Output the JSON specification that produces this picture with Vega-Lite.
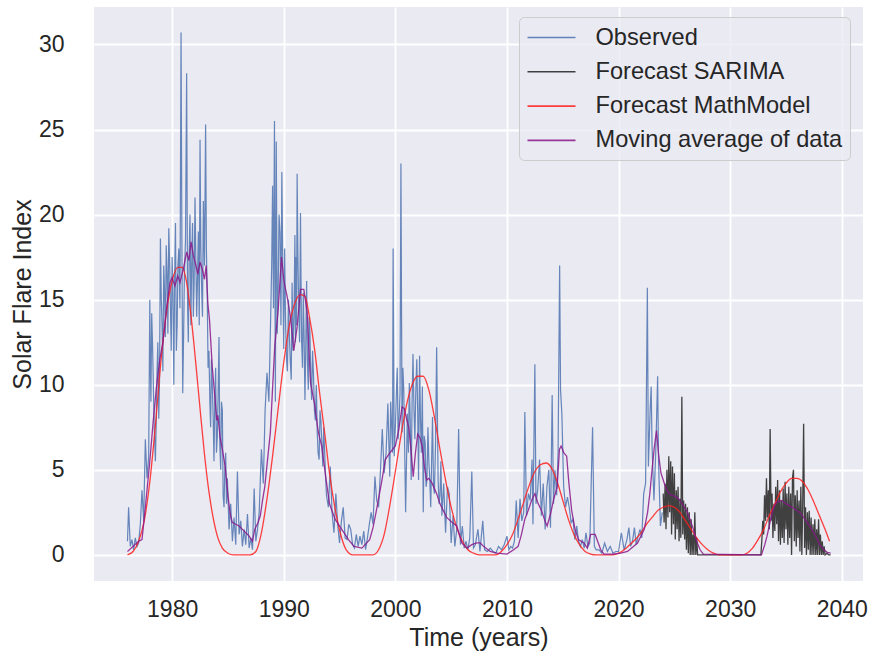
{
"$schema": "https://vega.github.io/schema/vega-lite/v6.json",
"width": 769, "height": 574,
"autosize": {"type": "none"},
"padding": {"left": 94, "top": 7, "right": 7, "bottom": 77},
"background": "white",
"config": {
 "view": {"fill": "#EAEAF2", "stroke": null},
 "font": "Liberation Sans",
 "axis": {"grid": true, "gridColor": "white", "gridWidth": 1.8, "domain": false, "ticks": false,
  "labelFont": "Liberation Sans", "labelFontSize": 23, "labelColor": "#262626",
  "titleFont": "Liberation Sans", "titleFontSize": 25, "titleColor": "#262626", "titleFontWeight": "normal"}
},
"datasets": {
"obs": [
{"t":1976.0,"v":0.8},{"t":1976.1,"v":2.8},{"t":1976.25,"v":0.5},{"t":1976.4,"v":0.9},{"t":1976.55,"v":0.3},{"t":1976.7,"v":1.0},{"t":1976.85,"v":0.5},
{"t":1977.0,"v":0.7},{"t":1977.15,"v":1.8},{"t":1977.3,"v":3.8},{"t":1977.45,"v":2.0},{"t":1977.6,"v":6.8},{"t":1977.75,"v":4.5},{"t":1977.9,"v":5.8},
{"t":1978.0,"v":15.0},{"t":1978.1,"v":9.0},{"t":1978.25,"v":12.2},{"t":1978.4,"v":7.5},{"t":1978.5,"v":5.5},{"t":1978.65,"v":10.8},{"t":1978.8,"v":8.0},{"t":1978.95,"v":18.6},
{"t":1979.1,"v":13.5},{"t":1979.25,"v":17.0},{"t":1979.4,"v":12.8},{"t":1979.55,"v":16.5},{"t":1979.7,"v":19.2},{"t":1979.85,"v":14.5},
{"t":1980.0,"v":17.5},{"t":1980.15,"v":10.0},{"t":1980.3,"v":19.5},{"t":1980.45,"v":13.5},{"t":1980.6,"v":18.0},{"t":1980.8,"v":30.7},{"t":1980.95,"v":9.5},
{"t":1981.1,"v":16.5},{"t":1981.3,"v":28.3},{"t":1981.45,"v":12.5},{"t":1981.6,"v":20.0},{"t":1981.75,"v":17.0},{"t":1981.9,"v":14.0},
{"t":1982.05,"v":21.0},{"t":1982.2,"v":14.0},{"t":1982.35,"v":19.0},{"t":1982.5,"v":24.4},{"t":1982.65,"v":15.5},{"t":1982.8,"v":20.8},
{"t":1983.0,"v":25.3},{"t":1983.15,"v":15.0},{"t":1983.3,"v":12.0},{"t":1983.45,"v":7.5},{"t":1983.6,"v":10.0},{"t":1983.75,"v":5.5},{"t":1983.9,"v":11.0},
{"t":1984.05,"v":7.0},{"t":1984.2,"v":12.8},{"t":1984.35,"v":5.0},{"t":1984.5,"v":8.5},{"t":1984.65,"v":2.8},{"t":1984.8,"v":6.0},{"t":1984.95,"v":4.5},
{"t":1985.1,"v":1.5},{"t":1985.25,"v":3.0},{"t":1985.4,"v":0.8},{"t":1985.55,"v":2.2},{"t":1985.7,"v":0.6},{"t":1985.85,"v":4.9},
{"t":1986.0,"v":1.2},{"t":1986.15,"v":2.0},{"t":1986.3,"v":0.5},{"t":1986.45,"v":1.5},{"t":1986.6,"v":0.6},{"t":1986.75,"v":2.4},{"t":1986.9,"v":0.4},
{"t":1987.05,"v":1.0},{"t":1987.2,"v":0.3},{"t":1987.35,"v":3.9},{"t":1987.5,"v":0.8},{"t":1987.65,"v":1.5},{"t":1987.8,"v":2.5},
{"t":1988.0,"v":6.2},{"t":1988.17,"v":4.2},{"t":1988.33,"v":8.5},{"t":1988.5,"v":10.7},{"t":1988.67,"v":9.0},{"t":1988.83,"v":14.0},
{"t":1989.0,"v":21.7},{"t":1989.17,"v":25.5},{"t":1989.25,"v":9.0},{"t":1989.33,"v":24.3},{"t":1989.5,"v":15.4},{"t":1989.67,"v":18.9},{"t":1989.83,"v":22.5},
{"t":1990.0,"v":12.1},{"t":1990.17,"v":13.4},{"t":1990.33,"v":10.8},{"t":1990.5,"v":13.0},{"t":1990.67,"v":10.3},{"t":1990.83,"v":12.0},
{"t":1991.0,"v":18.8},{"t":1991.1,"v":17.5},{"t":1991.2,"v":22.4},{"t":1991.33,"v":15.0},{"t":1991.5,"v":20.1},{"t":1991.6,"v":12.6},{"t":1991.75,"v":15.4},{"t":1991.9,"v":9.1},
{"t":1992.05,"v":16.1},{"t":1992.2,"v":9.7},{"t":1992.35,"v":13.0},{"t":1992.5,"v":9.1},{"t":1992.67,"v":10.5},{"t":1992.83,"v":7.9},
{"t":1993.0,"v":7.2},{"t":1993.17,"v":5.6},{"t":1993.33,"v":7.9},{"t":1993.5,"v":5.2},{"t":1993.67,"v":6.0},{"t":1993.83,"v":3.5},
{"t":1994.0,"v":2.8},{"t":1994.17,"v":5.2},{"t":1994.33,"v":2.5},{"t":1994.5,"v":1.3},{"t":1994.67,"v":3.6},{"t":1994.83,"v":1.8},
{"t":1995.0,"v":0.7},{"t":1995.17,"v":2.0},{"t":1995.33,"v":2.8},{"t":1995.5,"v":1.0},{"t":1995.67,"v":0.9},{"t":1995.83,"v":1.8},
{"t":1996.0,"v":1.5},{"t":1996.17,"v":0.6},{"t":1996.33,"v":0.4},{"t":1996.5,"v":1.2},{"t":1996.67,"v":0.5},{"t":1996.83,"v":1.1},
{"t":1997.0,"v":0.6},{"t":1997.17,"v":1.4},{"t":1997.33,"v":0.3},{"t":1997.5,"v":1.0},{"t":1997.67,"v":1.8},{"t":1997.83,"v":2.5},
{"t":1998.0,"v":1.8},{"t":1998.17,"v":4.6},{"t":1998.33,"v":3.2},{"t":1998.5,"v":2.8},{"t":1998.67,"v":5.0},{"t":1998.83,"v":7.4},
{"t":1999.0,"v":4.8},{"t":1999.17,"v":6.0},{"t":1999.33,"v":8.9},{"t":1999.5,"v":4.6},{"t":1999.67,"v":7.5},{"t":1999.8,"v":18.0},{"t":1999.9,"v":5.8},
{"t":2000.08,"v":9.3},{"t":2000.25,"v":6.8},{"t":2000.42,"v":9.5},{"t":2000.5,"v":23.0},{"t":2000.6,"v":7.2},{"t":2000.75,"v":9.8},{"t":2000.92,"v":2.5},
{"t":2001.08,"v":8.3},{"t":2001.25,"v":10.1},{"t":2001.42,"v":4.4},{"t":2001.58,"v":11.8},{"t":2001.75,"v":6.8},{"t":2001.92,"v":11.5},
{"t":2002.08,"v":4.4},{"t":2002.25,"v":7.9},{"t":2002.42,"v":9.9},{"t":2002.5,"v":2.5},{"t":2002.67,"v":6.6},{"t":2002.83,"v":4.4},
{"t":2003.0,"v":5.5},{"t":2003.17,"v":2.8},{"t":2003.33,"v":8.1},{"t":2003.5,"v":3.6},{"t":2003.7,"v":12.2},{"t":2003.83,"v":4.4},
{"t":2004.0,"v":3.5},{"t":2004.17,"v":2.3},{"t":2004.33,"v":4.2},{"t":2004.5,"v":1.3},{"t":2004.67,"v":4.0},{"t":2004.83,"v":3.6},
{"t":2005.0,"v":0.7},{"t":2005.17,"v":2.3},{"t":2005.33,"v":0.5},{"t":2005.5,"v":1.5},{"t":2005.67,"v":7.4},{"t":2005.83,"v":0.6},
{"t":2006.0,"v":1.7},{"t":2006.17,"v":0.4},{"t":2006.33,"v":0.8},{"t":2006.5,"v":0.3},{"t":2006.67,"v":1.0},{"t":2006.85,"v":4.9},
{"t":2007.0,"v":0.4},{"t":2007.17,"v":0.6},{"t":2007.4,"v":1.5},{"t":2007.58,"v":0.2},{"t":2007.83,"v":2.0},
{"t":2008.0,"v":0.3},{"t":2008.25,"v":0.2},{"t":2008.5,"v":0.4},{"t":2008.75,"v":0.2},{"t":2009.0,"v":0.1},{"t":2009.25,"v":0.5},{"t":2009.5,"v":0.3},{"t":2009.75,"v":0.6},
{"t":2010.0,"v":1.1},{"t":2010.17,"v":0.3},{"t":2010.33,"v":0.5},{"t":2010.5,"v":0.4},{"t":2010.67,"v":0.8},{"t":2010.83,"v":3.2},
{"t":2011.0,"v":1.0},{"t":2011.17,"v":3.3},{"t":2011.33,"v":2.0},{"t":2011.5,"v":2.5},{"t":2011.6,"v":8.4},{"t":2011.75,"v":2.3},{"t":2011.92,"v":3.6},
{"t":2012.08,"v":3.2},{"t":2012.25,"v":5.6},{"t":2012.33,"v":1.8},{"t":2012.5,"v":11.2},{"t":2012.6,"v":3.0},{"t":2012.75,"v":3.8},{"t":2012.92,"v":5.6},
{"t":2013.08,"v":2.3},{"t":2013.25,"v":4.2},{"t":2013.42,"v":1.5},{"t":2013.58,"v":4.0},{"t":2013.75,"v":5.0},{"t":2013.9,"v":1.6},
{"t":2014.05,"v":9.4},{"t":2014.17,"v":3.0},{"t":2014.3,"v":5.0},{"t":2014.45,"v":3.5},{"t":2014.58,"v":6.0},{"t":2014.72,"v":17.0},{"t":2014.8,"v":9.7},{"t":2014.92,"v":8.3},
{"t":2015.08,"v":4.0},{"t":2015.25,"v":2.8},{"t":2015.42,"v":3.4},{"t":2015.58,"v":2.8},{"t":2015.75,"v":1.9},{"t":2015.92,"v":2.1},
{"t":2016.08,"v":0.9},{"t":2016.25,"v":1.7},{"t":2016.42,"v":0.8},{"t":2016.58,"v":0.5},{"t":2016.75,"v":0.9},{"t":2016.92,"v":0.4},
{"t":2017.08,"v":1.3},{"t":2017.25,"v":0.5},{"t":2017.42,"v":0.7},{"t":2017.67,"v":7.5},{"t":2017.83,"v":0.5},
{"t":2018.0,"v":0.3},{"t":2018.25,"v":0.3},{"t":2018.5,"v":0.1},{"t":2018.75,"v":0.7},{"t":2019.0,"v":0.2},{"t":2019.25,"v":0.5},{"t":2019.5,"v":0.1},{"t":2019.75,"v":0.2},
{"t":2020.0,"v":0.2},{"t":2020.25,"v":1.3},{"t":2020.5,"v":0.3},{"t":2020.75,"v":0.9},{"t":2020.92,"v":1.6},
{"t":2021.08,"v":0.5},{"t":2021.25,"v":0.8},{"t":2021.42,"v":1.6},{"t":2021.58,"v":0.6},{"t":2021.75,"v":1.1},{"t":2021.92,"v":1.5},
{"t":2022.08,"v":1.0},{"t":2022.25,"v":3.6},{"t":2022.42,"v":4.2},{"t":2022.58,"v":15.7},{"t":2022.67,"v":5.2},{"t":2022.83,"v":8.5},{"t":2022.92,"v":9.9},
{"t":2023.0,"v":6.4},{"t":2023.17,"v":3.2},{"t":2023.33,"v":6.0},{"t":2023.5,"v":10.5},{"t":2023.58,"v":5.5},{"t":2023.75,"v":1.7},{"t":2023.92,"v":2.5},
{"t":1978.05,"v":11.0},{"t":1978.17,"v":14.2},{"t":1978.33,"v":9.5},{"t":1978.58,"v":8.0},{"t":1978.72,"v":12.5},{"t":1978.87,"v":10.2},{"t":1979.03,"v":15.0},{"t":1979.17,"v":10.8},
{"t":1979.32,"v":15.5},{"t":1979.47,"v":18.2},{"t":1979.62,"v":13.0},{"t":1979.78,"v":17.0},{"t":1979.92,"v":12.0},{"t":1980.07,"v":15.5},{"t":1980.22,"v":16.0},{"t":1980.38,"v":12.0},
{"t":1980.52,"v":17.0},{"t":1980.7,"v":14.5},{"t":1980.87,"v":19.0},{"t":1981.03,"v":13.0},{"t":1981.2,"v":18.5},{"t":1981.38,"v":15.0},{"t":1981.52,"v":17.5},{"t":1981.68,"v":13.5},
{"t":1981.83,"v":19.5},{"t":1981.97,"v":16.0},{"t":1982.12,"v":17.5},{"t":1982.28,"v":16.5},{"t":1982.43,"v":13.5},{"t":1982.57,"v":18.0},{"t":1982.72,"v":14.0},{"t":1982.9,"v":17.0},
{"t":1983.07,"v":18.0},{"t":1983.22,"v":11.0},{"t":1983.38,"v":9.0},{"t":1983.52,"v":11.5},{"t":1983.68,"v":8.0},{"t":1983.82,"v":9.0},{"t":1983.97,"v":6.0},{"t":1984.12,"v":9.5},
{"t":1984.27,"v":6.5},{"t":1984.42,"v":9.0},{"t":1984.57,"v":3.5},{"t":1984.72,"v":5.0},{"t":1984.87,"v":3.0},
{"t":1988.92,"v":17.0},{"t":1989.08,"v":14.5},{"t":1989.42,"v":13.0},{"t":1989.58,"v":20.0},{"t":1989.75,"v":13.5},{"t":1989.92,"v":16.5},{"t":1990.08,"v":18.0},{"t":1990.25,"v":11.5},
{"t":1990.42,"v":15.0},{"t":1990.58,"v":11.5},{"t":1990.75,"v":16.0},{"t":1990.92,"v":14.0},{"t":1991.05,"v":12.5},{"t":1991.15,"v":13.5},{"t":1991.27,"v":17.5},{"t":1991.42,"v":12.5},
{"t":1991.55,"v":16.0},{"t":1991.68,"v":11.0},{"t":1991.82,"v":13.0},{"t":1991.97,"v":12.0},{"t":1992.12,"v":11.5},{"t":1992.27,"v":14.0},{"t":1992.42,"v":10.5},{"t":1992.58,"v":12.0},
{"t":1992.75,"v":8.5},{"t":1992.92,"v":10.0},{"t":1993.08,"v":6.0},{"t":1993.25,"v":8.5},{"t":1993.42,"v":6.5},{"t":1993.58,"v":7.5},{"t":1993.75,"v":4.5},
{"t":1999.42,"v":6.5},{"t":1999.58,"v":9.0},{"t":1999.75,"v":6.0},{"t":2000.0,"v":7.5},{"t":2000.17,"v":11.0},{"t":2000.33,"v":8.0},{"t":2000.67,"v":11.0},{"t":2000.83,"v":6.5},
{"t":2001.0,"v":5.5},{"t":2001.17,"v":6.0},{"t":2001.33,"v":8.0},{"t":2001.5,"v":9.0},{"t":2001.67,"v":8.5},{"t":2001.83,"v":9.5},{"t":2002.0,"v":8.5},{"t":2002.17,"v":11.7},
{"t":2002.33,"v":6.0},{"t":2002.58,"v":7.0},{"t":2002.75,"v":4.0},{"t":2002.92,"v":7.5},{"t":2003.08,"v":4.5},{"t":2003.25,"v":5.5},{"t":2003.42,"v":4.0},{"t":2003.6,"v":6.5},
{"t":2003.92,"v":3.0},{"t":2004.08,"v":5.5}
],
"sar": [
{"t":2024.0,"v":3.6},{"t":2024.08,"v":1.9},{"t":2024.17,"v":4.2},{"t":2024.25,"v":1.5},{"t":2024.33,"v":5.0},{"t":2024.42,"v":2.2},{"t":2024.5,"v":5.8},{"t":2024.58,"v":2.5},
{"t":2024.67,"v":5.5},{"t":2024.75,"v":1.2},{"t":2024.83,"v":5.2},{"t":2024.92,"v":1.8},{"t":2025.0,"v":4.8},{"t":2025.08,"v":0.9},{"t":2025.17,"v":3.8},{"t":2025.25,"v":1.5},
{"t":2025.33,"v":4.0},{"t":2025.42,"v":0.8},{"t":2025.5,"v":3.3},{"t":2025.58,"v":1.0},{"t":2025.67,"v":9.3},{"t":2025.75,"v":1.2},{"t":2025.83,"v":3.2},{"t":2025.92,"v":0.9},
{"t":2026.0,"v":3.0},{"t":2026.08,"v":0.3},{"t":2026.17,"v":2.8},{"t":2026.25,"v":0.1},{"t":2026.33,"v":2.5},{"t":2026.42,"v":0.0},{"t":2026.5,"v":2.1},{"t":2026.58,"v":0.0},
{"t":2026.67,"v":1.2},{"t":2026.75,"v":0.0},{"t":2026.83,"v":2.5},{"t":2026.92,"v":0.0},{"t":2027.0,"v":1.0},{"t":2027.08,"v":0.0},{"t":2032.75,"v":0.0},
{"t":2032.83,"v":0.8},{"t":2032.92,"v":2.0},{"t":2033.0,"v":1.2},{"t":2033.08,"v":3.5},{"t":2033.17,"v":2.0},{"t":2033.25,"v":4.5},{"t":2033.33,"v":2.2},{"t":2033.42,"v":3.8},
{"t":2033.5,"v":1.5},{"t":2033.58,"v":7.4},{"t":2033.67,"v":2.0},{"t":2033.75,"v":3.6},{"t":2033.83,"v":1.0},{"t":2033.92,"v":3.0},{"t":2034.0,"v":1.4},{"t":2034.08,"v":4.0},
{"t":2034.17,"v":1.8},{"t":2034.25,"v":4.4},{"t":2034.33,"v":0.8},{"t":2034.42,"v":3.8},{"t":2034.5,"v":0.6},{"t":2034.58,"v":3.2},{"t":2034.67,"v":1.0},{"t":2034.75,"v":3.9},
{"t":2034.83,"v":0.7},{"t":2034.92,"v":4.3},{"t":2035.0,"v":1.5},{"t":2035.08,"v":3.6},{"t":2035.17,"v":0.6},{"t":2035.25,"v":4.0},{"t":2035.33,"v":1.0},{"t":2035.42,"v":3.6},
{"t":2035.5,"v":0.0},{"t":2035.58,"v":4.5},{"t":2035.67,"v":5.0},{"t":2035.75,"v":0.8},{"t":2035.83,"v":3.5},{"t":2035.92,"v":0.5},{"t":2036.0,"v":3.8},{"t":2036.08,"v":1.0},
{"t":2036.17,"v":3.2},{"t":2036.25,"v":0.2},{"t":2036.33,"v":4.0},{"t":2036.42,"v":0.0},{"t":2036.5,"v":3.0},{"t":2036.58,"v":7.7},{"t":2036.67,"v":0.4},{"t":2036.75,"v":2.8},
{"t":2036.83,"v":0.0},{"t":2036.92,"v":2.5},{"t":2037.0,"v":0.3},{"t":2037.08,"v":2.6},{"t":2037.17,"v":0.0},{"t":2037.25,"v":2.2},{"t":2037.33,"v":0.0},{"t":2037.42,"v":1.8},
{"t":2037.5,"v":0.0},{"t":2037.58,"v":2.1},{"t":2037.67,"v":0.0},{"t":2037.75,"v":1.5},{"t":2037.83,"v":0.0},{"t":2037.92,"v":2.1},{"t":2038.0,"v":0.0},{"t":2038.08,"v":1.2},
{"t":2038.17,"v":0.0},{"t":2038.25,"v":0.8},{"t":2038.33,"v":0.0},{"t":2038.42,"v":0.5},{"t":2038.5,"v":0.0},{"t":2038.67,"v":0.1},{"t":2038.83,"v":0.0},{"t":2039.0,"v":0.0}
],
"model": [
{"t":1976.0,"v":0.0},{"t":1976.5,"v":0.2},{"t":1977.0,"v":0.8},{"t":1977.5,"v":2.0},{"t":1978.0,"v":4.3},{"t":1978.5,"v":7.6},{"t":1979.0,"v":11.4},{"t":1979.5,"v":14.3},
{"t":1980.0,"v":16.1},{"t":1980.5,"v":16.9},{"t":1980.9,"v":16.9},{"t":1981.3,"v":16.0},{"t":1981.7,"v":14.0},{"t":1982.1,"v":11.4},{"t":1982.5,"v":8.6},{"t":1982.9,"v":5.9},
{"t":1983.3,"v":3.7},{"t":1983.7,"v":2.1},{"t":1984.1,"v":1.0},{"t":1984.5,"v":0.4},{"t":1985.0,"v":0.1},{"t":1985.5,"v":0.0},{"t":1987.0,"v":0.0},{"t":1987.5,"v":0.2},
{"t":1988.0,"v":1.3},{"t":1988.5,"v":3.3},{"t":1989.0,"v":5.8},{"t":1989.5,"v":8.6},{"t":1990.0,"v":11.3},{"t":1990.5,"v":13.5},{"t":1991.0,"v":14.8},{"t":1991.5,"v":15.3},
{"t":1991.9,"v":15.2},{"t":1992.3,"v":14.0},{"t":1992.8,"v":11.9},{"t":1993.2,"v":9.6},{"t":1993.7,"v":7.0},{"t":1994.1,"v":4.8},{"t":1994.6,"v":2.7},{"t":1995.1,"v":1.2},
{"t":1995.6,"v":0.3},{"t":1996.2,"v":0.0},{"t":1998.0,"v":0.0},{"t":1998.5,"v":0.3},{"t":1999.0,"v":1.2},{"t":1999.5,"v":2.9},{"t":2000.0,"v":4.9},{"t":2000.5,"v":7.0},
{"t":2001.0,"v":8.8},{"t":2001.5,"v":10.0},{"t":2002.0,"v":10.5},{"t":2002.5,"v":10.5},{"t":2003.0,"v":9.7},{"t":2003.5,"v":8.1},{"t":2004.0,"v":6.2},{"t":2004.5,"v":4.4},
{"t":2005.0,"v":2.8},{"t":2005.5,"v":1.6},{"t":2006.0,"v":0.8},{"t":2006.5,"v":0.3},{"t":2007.0,"v":0.1},{"t":2007.5,"v":0.0},{"t":2009.0,"v":0.0},{"t":2009.5,"v":0.2},
{"t":2010.0,"v":0.6},{"t":2010.5,"v":1.2},{"t":2011.0,"v":2.1},{"t":2011.5,"v":3.1},{"t":2012.0,"v":4.1},{"t":2012.5,"v":4.9},{"t":2013.0,"v":5.3},{"t":2013.5,"v":5.4},
{"t":2014.0,"v":5.1},{"t":2014.5,"v":4.3},{"t":2015.0,"v":3.2},{"t":2015.5,"v":2.1},{"t":2016.0,"v":1.2},{"t":2016.5,"v":0.6},{"t":2017.0,"v":0.2},{"t":2017.5,"v":0.05},
{"t":2018.0,"v":0.0},{"t":2019.5,"v":0.0},{"t":2020.0,"v":0.1},{"t":2020.5,"v":0.3},{"t":2021.0,"v":0.6},{"t":2021.5,"v":0.9},{"t":2022.0,"v":1.3},{"t":2022.5,"v":1.8},
{"t":2023.0,"v":2.2},{"t":2023.5,"v":2.6},{"t":2024.0,"v":2.8},{"t":2024.5,"v":2.9},{"t":2025.0,"v":2.8},{"t":2025.5,"v":2.5},{"t":2026.0,"v":2.0},{"t":2026.5,"v":1.5},
{"t":2027.0,"v":1.0},{"t":2027.5,"v":0.6},{"t":2028.0,"v":0.3},{"t":2028.5,"v":0.1},{"t":2029.0,"v":0.0},{"t":2031.0,"v":0.0},{"t":2031.5,"v":0.1},{"t":2032.0,"v":0.4},
{"t":2032.5,"v":0.9},{"t":2033.0,"v":1.5},{"t":2033.5,"v":2.3},{"t":2034.0,"v":3.0},{"t":2034.5,"v":3.7},{"t":2035.0,"v":4.2},{"t":2035.5,"v":4.5},{"t":2036.0,"v":4.5},
{"t":2036.5,"v":4.3},{"t":2037.0,"v":3.8},{"t":2037.5,"v":3.1},{"t":2038.0,"v":2.3},{"t":2038.5,"v":1.5},{"t":2038.9,"v":0.8}
],
"ma": [
{"t":1976.0,"v":0.2},{"t":1976.5,"v":0.5},{"t":1977.0,"v":0.8},{"t":1977.3,"v":0.9},{"t":1977.6,"v":2.8},{"t":1978.0,"v":5.5},{"t":1978.3,"v":7.8},{"t":1978.6,"v":9.9},
{"t":1978.9,"v":11.5},{"t":1979.2,"v":12.6},{"t":1979.5,"v":14.5},{"t":1979.8,"v":16.0},{"t":1980.0,"v":16.3},{"t":1980.25,"v":15.8},{"t":1980.5,"v":16.4},{"t":1980.7,"v":16.0},
{"t":1981.0,"v":16.8},{"t":1981.3,"v":17.8},{"t":1981.5,"v":17.3},{"t":1981.7,"v":18.4},{"t":1981.9,"v":17.6},{"t":1982.1,"v":17.1},{"t":1982.3,"v":16.5},{"t":1982.5,"v":17.2},
{"t":1982.7,"v":16.8},{"t":1982.9,"v":16.2},{"t":1983.05,"v":17.0},{"t":1983.2,"v":14.8},{"t":1983.35,"v":13.8},{"t":1983.6,"v":11.0},{"t":1983.8,"v":9.5},{"t":1984.0,"v":7.9},
{"t":1984.1,"v":8.2},{"t":1984.3,"v":6.9},{"t":1984.5,"v":6.2},{"t":1984.75,"v":5.2},{"t":1985.0,"v":3.5},{"t":1985.2,"v":2.4},{"t":1985.4,"v":1.9},{"t":1985.7,"v":1.8},
{"t":1986.0,"v":1.7},{"t":1986.3,"v":1.5},{"t":1986.6,"v":1.3},{"t":1986.9,"v":1.1},{"t":1987.2,"v":0.8},{"t":1987.4,"v":1.5},{"t":1987.7,"v":1.9},{"t":1987.9,"v":2.3},
{"t":1988.1,"v":3.2},{"t":1988.3,"v":4.0},{"t":1988.55,"v":5.6},{"t":1988.8,"v":7.2},{"t":1989.0,"v":9.8},{"t":1989.2,"v":12.3},{"t":1989.5,"v":14.4},{"t":1989.8,"v":17.5},
{"t":1990.0,"v":16.2},{"t":1990.1,"v":15.8},{"t":1990.3,"v":15.2},{"t":1990.6,"v":14.0},{"t":1990.9,"v":12.0},{"t":1991.2,"v":13.4},{"t":1991.5,"v":15.6},{"t":1991.8,"v":15.6},
{"t":1992.1,"v":14.2},{"t":1992.4,"v":10.1},{"t":1992.75,"v":8.9},{"t":1993.1,"v":7.2},{"t":1993.4,"v":6.4},{"t":1993.8,"v":4.4},{"t":1994.1,"v":3.0},{"t":1994.6,"v":2.1},
{"t":1995.2,"v":1.5},{"t":1995.8,"v":0.9},{"t":1996.3,"v":0.5},{"t":1997.0,"v":0.4},{"t":1997.7,"v":0.9},{"t":1998.0,"v":1.6},{"t":1998.3,"v":2.6},{"t":1998.8,"v":4.4},
{"t":1999.1,"v":5.6},{"t":1999.5,"v":6.0},{"t":2000.0,"v":6.4},{"t":2000.3,"v":7.35},{"t":2000.6,"v":8.7},{"t":2000.8,"v":8.6},{"t":2001.0,"v":8.0},{"t":2001.2,"v":7.5},
{"t":2001.4,"v":6.2},{"t":2001.6,"v":4.6},{"t":2001.8,"v":6.0},{"t":2002.0,"v":7.1},{"t":2002.2,"v":6.9},{"t":2002.4,"v":6.4},{"t":2002.6,"v":5.2},{"t":2002.8,"v":4.4},
{"t":2003.0,"v":4.5},{"t":2003.3,"v":4.2},{"t":2003.7,"v":3.6},{"t":2004.0,"v":3.0},{"t":2004.3,"v":2.6},{"t":2004.6,"v":2.2},{"t":2005.1,"v":1.9},{"t":2005.5,"v":1.7},
{"t":2005.95,"v":0.7},{"t":2006.4,"v":0.4},{"t":2006.85,"v":0.6},{"t":2007.3,"v":0.7},{"t":2007.6,"v":0.7},{"t":2007.9,"v":0.5},{"t":2008.5,"v":0.2},{"t":2009.1,"v":0.1},
{"t":2010.0,"v":0.05},{"t":2010.6,"v":0.3},{"t":2011.0,"v":0.5},{"t":2011.3,"v":1.2},{"t":2011.6,"v":2.1},{"t":2011.9,"v":2.6},{"t":2012.2,"v":3.2},{"t":2012.5,"v":3.6},
{"t":2012.8,"v":3.0},{"t":2013.1,"v":2.6},{"t":2013.4,"v":2.0},{"t":2013.6,"v":1.7},{"t":2013.9,"v":2.4},{"t":2014.2,"v":3.3},{"t":2014.5,"v":4.0},{"t":2014.7,"v":6.2},
{"t":2014.85,"v":6.4},{"t":2015.1,"v":6.0},{"t":2015.35,"v":5.8},{"t":2015.55,"v":4.2},{"t":2015.8,"v":2.6},{"t":2016.1,"v":1.5},{"t":2016.4,"v":0.9},{"t":2016.9,"v":0.7},
{"t":2017.2,"v":0.4},{"t":2017.5,"v":1.2},{"t":2017.9,"v":1.2},{"t":2018.4,"v":0.3},{"t":2018.7,"v":0.05},{"t":2019.5,"v":0.05},{"t":2020.2,"v":0.1},{"t":2020.8,"v":0.2},
{"t":2021.7,"v":0.7},{"t":2022.3,"v":1.5},{"t":2022.6,"v":2.5},{"t":2022.8,"v":3.6},{"t":2023.0,"v":5.0},{"t":2023.2,"v":6.3},{"t":2023.4,"v":7.3},{"t":2023.6,"v":5.8},
{"t":2023.8,"v":4.8},{"t":2024.0,"v":4.4},{"t":2024.2,"v":4.0},{"t":2024.5,"v":3.6},{"t":2024.8,"v":3.5},{"t":2025.2,"v":3.4},{"t":2025.5,"v":3.2},{"t":2025.8,"v":2.9},
{"t":2026.1,"v":2.6},{"t":2026.4,"v":2.1},{"t":2026.7,"v":1.5},{"t":2027.0,"v":0.8},{"t":2027.3,"v":0.3},{"t":2027.6,"v":0.05},{"t":2032.8,"v":0.0},{"t":2033.1,"v":0.6},
{"t":2033.3,"v":1.1},{"t":2033.6,"v":2.0},{"t":2033.9,"v":2.8},{"t":2034.2,"v":3.1},{"t":2034.6,"v":3.2},{"t":2035.0,"v":3.0},{"t":2035.4,"v":2.85},{"t":2035.8,"v":2.7},
{"t":2036.3,"v":2.45},{"t":2036.7,"v":2.1},{"t":2037.2,"v":1.6},{"t":2037.5,"v":1.3},{"t":2037.8,"v":0.9},{"t":2038.1,"v":0.5},{"t":2038.4,"v":0.3},{"t":2038.7,"v":0.15},{"t":2039.0,"v":0.1}
]
},
"layer": [
{"data": {"name": "obs"}, "mark": {"type": "line", "strokeWidth": 1.2, "opacity": 0.85, "clip": true},
 "encoding": {
  "x": {"field": "t", "type": "quantitative", "scale": {"domain": [1973.0, 2041.9], "nice": false, "zero": false},
   "axis": {"values": [1980,1990,2000,2010,2020,2030,2040], "format": "d", "title": "Time (years)", "labelPadding": 17, "titlePadding": 4}},
  "y": {"field": "v", "type": "quantitative", "scale": {"domain": [-1.535, 32.2], "nice": false, "zero": false},
   "axis": {"values": [0,5,10,15,20,25,30], "title": "Solar Flare Index", "labelPadding": 30, "titlePadding": 3}},
  "color": {"datum": "Observed", "type": "nominal",
   "scale": {"domain": ["Observed", "Forecast SARIMA", "Forecast MathModel", "Moving average of data"], "range": ["#4C72B0", "#222222", "#FF1F1F", "#8A168A"]},
   "legend": {"title": null, "orient": "none", "legendX": 425, "legendY": 10, "symbolType": "M-1,0H3", "symbolSize": 576, "symbolStrokeWidth": 1.6, "symbolOpacity": 0.75,
    "labelFont": "Liberation Sans", "labelFontSize": 23.6, "labelColor": "#262626", "labelOffset": 43, "labelLimit": 400,
    "fillColor": "rgba(234,234,242,0.8)", "strokeColor": "#CCCCCC", "cornerRadius": 5, "padding": 7.5, "rowPadding": 9.3}}
 }},
{"data": {"name": "sar"}, "mark": {"type": "line", "strokeWidth": 1.3, "opacity": 0.85, "clip": true},
 "encoding": {"x": {"field": "t", "type": "quantitative"}, "y": {"field": "v", "type": "quantitative"}, "color": {"datum": "Forecast SARIMA", "type": "nominal"}}},
{"data": {"name": "model"}, "mark": {"type": "line", "strokeWidth": 1.3, "opacity": 0.85, "interpolate": "monotone", "clip": true},
 "encoding": {"x": {"field": "t", "type": "quantitative"}, "y": {"field": "v", "type": "quantitative"}, "color": {"datum": "Forecast MathModel", "type": "nominal"}}},
{"data": {"name": "ma"}, "mark": {"type": "line", "strokeWidth": 1.3, "opacity": 0.85, "clip": true},
 "encoding": {"x": {"field": "t", "type": "quantitative"}, "y": {"field": "v", "type": "quantitative"}, "color": {"datum": "Moving average of data", "type": "nominal"}}}
]
}
